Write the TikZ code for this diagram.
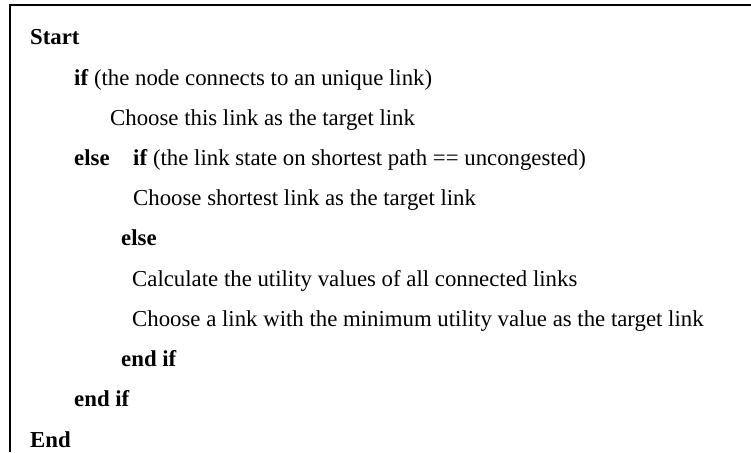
\documentclass[tikz,border=0pt]{standalone}
\usepackage{fontspec}
\setmainfont{Liberation Serif}
\begin{document}
\begin{tikzpicture}[x=1pt,y=1pt,
  txt/.style={anchor=base west, inner sep=0pt, font=\fontsize{22.8}{27}\selectfont},
  kw/.style={txt, font=\fontsize{22.8}{27}\selectfont\bfseries},
  frame/.style={line width=1.6pt, draw=black}]
\useasboundingbox (0,0) rectangle (751,452);
\draw[frame] (10,0) -- (10,447) -- (751,447);
\node[kw]  (start) at (30,407)   {Start};
\node[txt] (if1)   at (74,366.8) {\textbf{if} (the node connects to an unique link)};
\node[txt] (ch1)   at (110,326.6){Choose this link as the target link};
\node[kw]  (else1) at (74,286.4) {else};
\node[txt] (if2)   at (133,286.4){\textbf{if} (the link state on shortest path == uncongested)};
\node[txt] (ch2)   at (133,246.2){Choose shortest link as the target link};
\node[kw]  (else2) at (121,206)  {else};
\node[txt] (calc)  at (132,165.8){Calculate the utility values of all connected links};
\node[txt] (ch3)   at (132,125.6){Choose a link with the minimum utility value as the target link};
\node[kw]  (end2)  at (121,85.4) {end if};
\node[kw]  (end1)  at (74,45.2)  {end if};
\node[kw]  (endn)  at (30,5)     {End};
\end{tikzpicture}
\end{document}
